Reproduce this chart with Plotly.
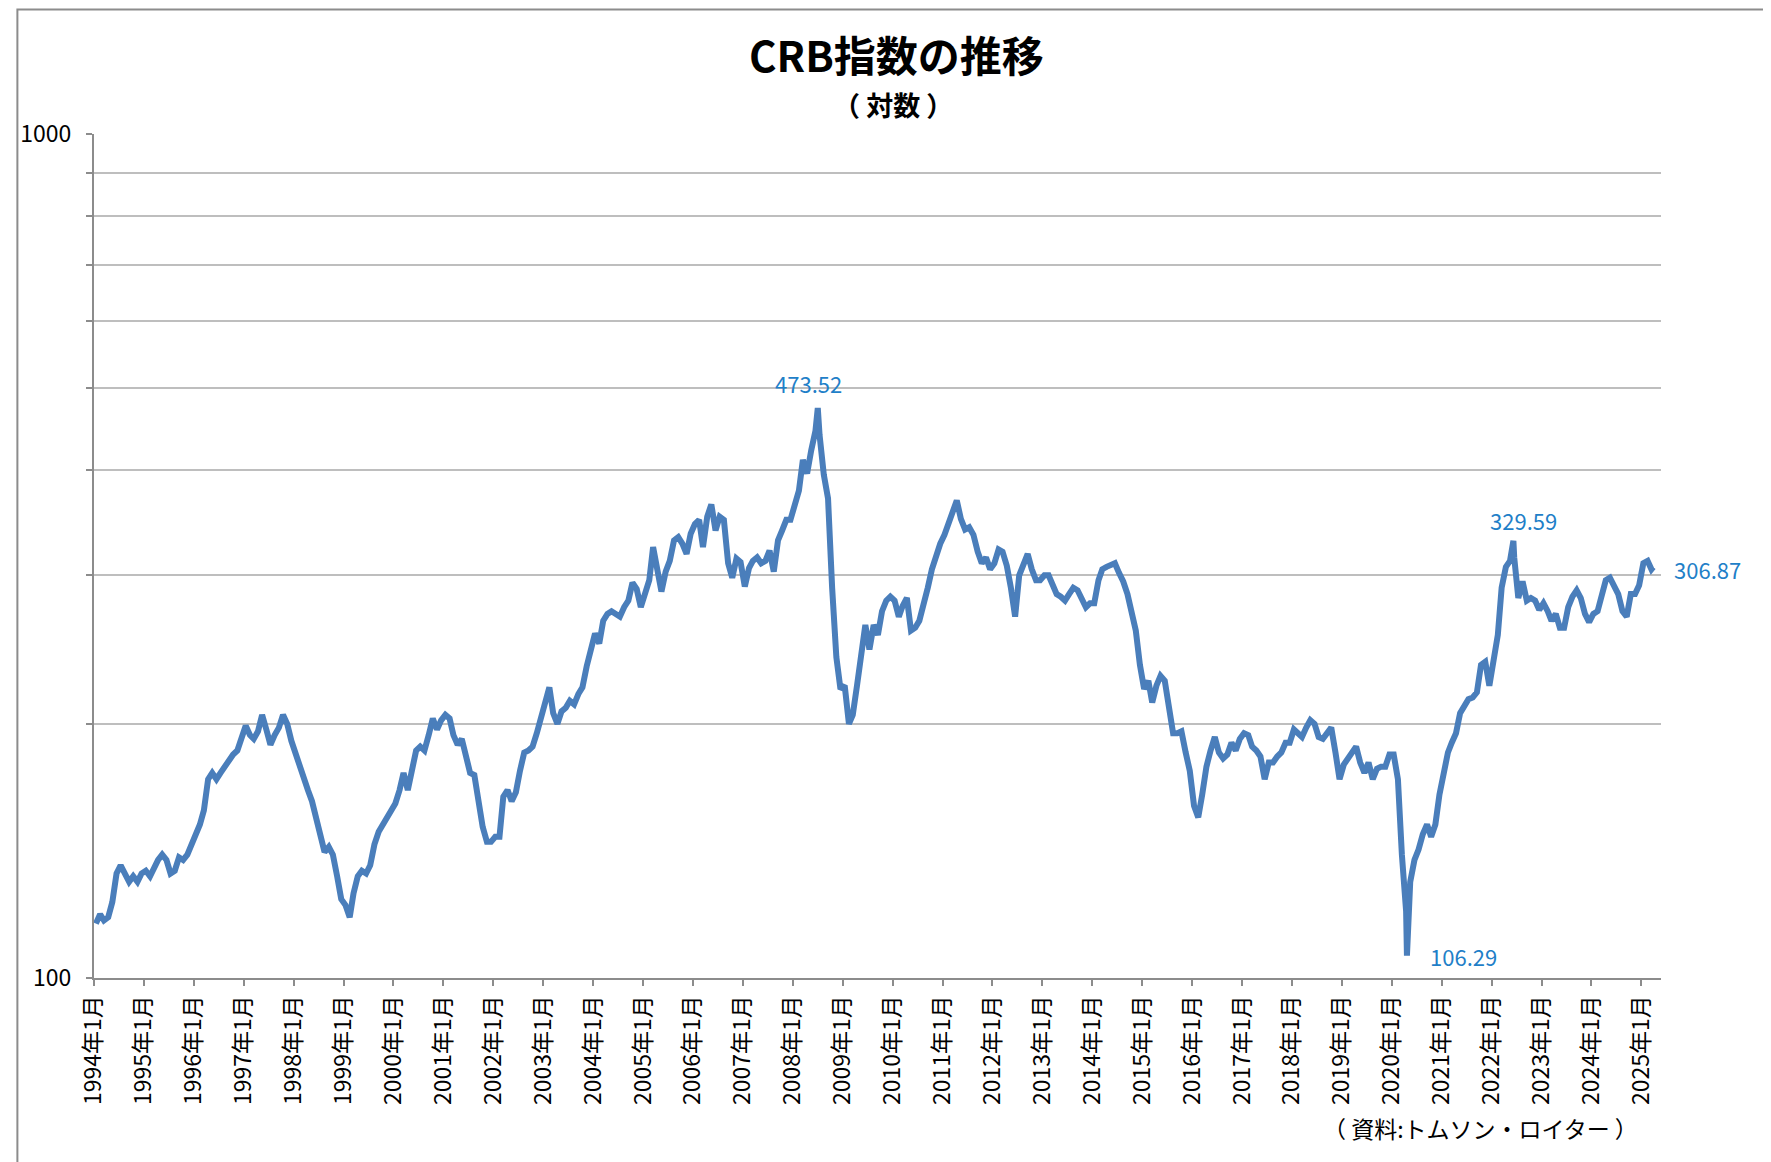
import math
import plotly.graph_objects as go

# ---- data (monthly readings, mid-month) ----
years = list(range(1994, 2026))
v1994 = [116, 119, 117, 118, 123, 133, 136, 133, 130, 132, 130, 133]
v1995 = [134, 132, 135, 138, 140, 138, 133, 134, 139, 138, 140, 144]
v1996 = [148, 152, 158, 172, 175, 172, 175, 178, 182, 184, 186, 192]
v1997 = [199, 194, 192, 196, 205, 197, 189, 194, 198, 205, 200, 191]
v1998 = [184, 178, 172, 167, 162, 155, 147, 141, 143, 140, 132, 124]
v1999 = [122, 118, 126, 132, 134, 133, 136, 144, 149, 152, 154, 157]
v2000 = [161, 167, 175, 167, 177, 186, 188, 186, 194, 203, 197, 202]
v2001 = [205, 203, 194, 189, 192, 184, 175, 174, 162, 151, 145, 145]
v2002 = [147, 147, 164, 167, 162, 166, 176, 185, 186, 188, 195, 204]
v2003 = [213, 221, 206, 200, 207, 209, 213, 211, 217, 221, 234, 247]
v2004 = [256, 249, 265, 270, 272, 270, 268, 275, 280, 294, 289, 275]
v2005 = [285, 296, 324, 301, 287, 303, 312, 330, 333, 327, 318, 336]
v2006 = [345, 349, 324, 352, 364, 339, 352, 349, 310, 298, 314, 311]
v2007 = [291, 306, 312, 315, 310, 312, 321, 303, 330, 339, 349, 349]
v2008 = [361, 378, 411, 396, 422, 445, 440, 395, 370, 290, 240, 220]
v2009 = [222, 200, 205, 222, 245, 262, 245, 262, 255, 272, 280, 283]
v2010 = [280, 268, 276, 282, 258, 260, 265, 276, 290, 305, 318, 327]
v2011 = [335, 345, 355, 368, 350, 340, 342, 335, 320, 310, 315, 305]
v2012 = [310, 322, 320, 308, 290, 268, 300, 310, 318, 305, 296, 296]
v2013 = [300, 300, 293, 285, 283, 280, 285, 290, 288, 282, 275, 278]
v2014 = [278, 296, 305, 307, 308, 310, 302, 295, 285, 272, 258, 235]
v2015 = [220, 225, 212, 222, 228, 225, 210, 195, 195, 196, 185, 176]
v2016 = [160, 155, 165, 178, 186, 193, 185, 182, 184, 190, 186, 192]
v2017 = [195, 194, 188, 186, 183, 172, 180, 180, 183, 185, 190, 190]
v2018 = [197, 195, 193, 198, 202, 200, 193, 192, 195, 198, 185, 172]
v2019 = [179, 182, 184, 188, 180, 175, 180, 172, 177, 178, 178, 184]
v2020 = [184, 172, 140, 120, 130, 138, 142, 148, 152, 147, 152, 165]
v2021 = [175, 185, 190, 195, 206, 210, 214, 215, 218, 235, 237, 222]
v2022 = [240, 255, 290, 307, 312, 315, 282, 295, 280, 282, 280, 273]
v2023 = [278, 272, 265, 270, 260, 260, 275, 283, 288, 282, 270, 264]
v2024 = [270, 272, 282, 296, 298, 290, 285, 272, 268, 285, 285, 292]
v2025 = [310, 312, 305]

# labelled extreme / last points
key_dates = ["2008-07-02", "2020-04-21", "2022-06-09", "2025-03-28"]
key_values = [473.52, 106.29, 329.59, 306.87]
key_labels = ["473.52", "106.29", "329.59", "306.87"]

tick_years = list(range(1994, 2026))
tick_labels = [f"{y}年1月" for y in tick_years]

# ---- assemble series ----
yearly = [v1994, v1995, v1996, v1997, v1998, v1999, v2000, v2001, v2002, v2003,
          v2004, v2005, v2006, v2007, v2008, v2009, v2010, v2011, v2012, v2013,
          v2014, v2015, v2016, v2017, v2018, v2019, v2020, v2021, v2022, v2023,
          v2024, v2025]
pts = []
for y, vals in zip(years, yearly):
    for m, v in enumerate(vals, start=1):
        pts.append((f"{y}-{m:02d}-15", v))
pts += list(zip(key_dates, key_values))
pts.sort(key=lambda p: p[0])
dates = [p[0] for p in pts]
values = [p[1] for p in pts]

FONT = "Noto Sans CJK JP"
BLUE_TXT = "#1F80C8"
LINE = "#4A7EBB"
GRAY = "#8C8C8C"

fig = go.Figure()
fig.add_trace(go.Scatter(x=dates, y=values, mode="lines",
                         line=dict(color=LINE, width=6), hoverinfo="skip",
                         showlegend=False))

OFF = 8  # page body margin
W, H = 1771 - OFF, 1162 - OFF
# plot area in screenshot pixels
SL, SR, ST, SB = 86, 1661, 133.5, 978
L, R, T, B = SL - OFF, SR - OFF, ST - OFF, SB - OFF
pw, ph = R - L, B - T

def px2paper(xs, ys):
    """screenshot pixel -> paper coords"""
    return (xs - OFF - L) / pw, (B - (ys - OFF)) / ph

ann = []
tx, ty = px2paper(893, 53)
ann.append(dict(text="<b>CRB指数の推移</b>", x=tx, y=ty, xref="paper", yref="paper",
                xanchor="center", yanchor="middle", showarrow=False,
                font=dict(family=FONT, size=42, color="#000000")))
sx, sy = px2paper(889, 104)
ann.append(dict(text="<b>（ 対数 ）</b>", x=sx, y=sy, xref="paper", yref="paper",
                xanchor="center", yanchor="middle", showarrow=False,
                font=dict(family=FONT, size=27, color="#000000")))
cx, cy = px2paper(1640, 1128)
ann.append(dict(text="（ 資料:トムソン・ロイター ）", x=cx, y=cy, xref="paper", yref="paper",
                xanchor="right", yanchor="middle", showarrow=False,
                font=dict(family=FONT, size=23, color="#000000")))

offsets = {"473.52": ("center", -9, 25), "106.29": ("left", 21, 0),
           "329.59": ("center", 10, 21), "306.87": ("left", 19, -2)}
for d, v, lab in zip(key_dates, key_values, key_labels):
    xa, xs, ys = offsets[lab]
    ann.append(dict(text=lab, x=d, y=math.log10(v), xref="x", yref="y",
                    xanchor=xa, yanchor="middle", xshift=xs, yshift=ys, showarrow=False,
                    font=dict(family=FONT, size=22, color=BLUE_TXT)))

# outer frame (top and left edges visible, others beyond the window)
fx0, fy1 = px2paper(OFF + 1, OFF + 1)
fx1, fy0 = px2paper(1800, 1200)
shapes = [dict(type="rect", xref="paper", yref="paper", x0=fx0, y0=fy0, x1=fx1, y1=fy1,
               line=dict(color=GRAY, width=2), fillcolor="rgba(0,0,0,0)", layer="below")]

yt = [100, 200, 300, 400, 500, 600, 700, 800, 900, 1000]
ytext = ["100", "", "", "", "", "", "", "", "", "1000"]

fig.update_layout(
    width=W, height=H,
    margin=dict(l=L, r=W - R, t=T, b=H - B, pad=0),
    paper_bgcolor="white", plot_bgcolor="white",
    annotations=ann, shapes=shapes,
    xaxis=dict(type="date", range=["1994-01-01", "2025-05-24"],
               tickvals=[f"{y}-01-01" for y in tick_years], ticktext=tick_labels,
               tickangle=-90, ticks="outside", ticklen=6, tickwidth=2, tickcolor=GRAY,
               showline=True, linecolor=GRAY, linewidth=2, showgrid=False,
               zeroline=False, ticklabelstandoff=0,
               tickfont=dict(family=FONT, size=23, color="#000000")),
    yaxis=dict(type="log", range=[2, 3], tickvals=yt, ticktext=ytext,
               ticks="outside", ticklen=6, tickwidth=2, tickcolor=GRAY,
               showline=True, linecolor=GRAY, linewidth=2,
               showgrid=True, gridcolor="#BEBEBE", gridwidth=2, zeroline=False,
               ticklabelstandoff=10,
               tickfont=dict(family=FONT, size=23, color="#000000")),
)

fig.write_html("out.html")
